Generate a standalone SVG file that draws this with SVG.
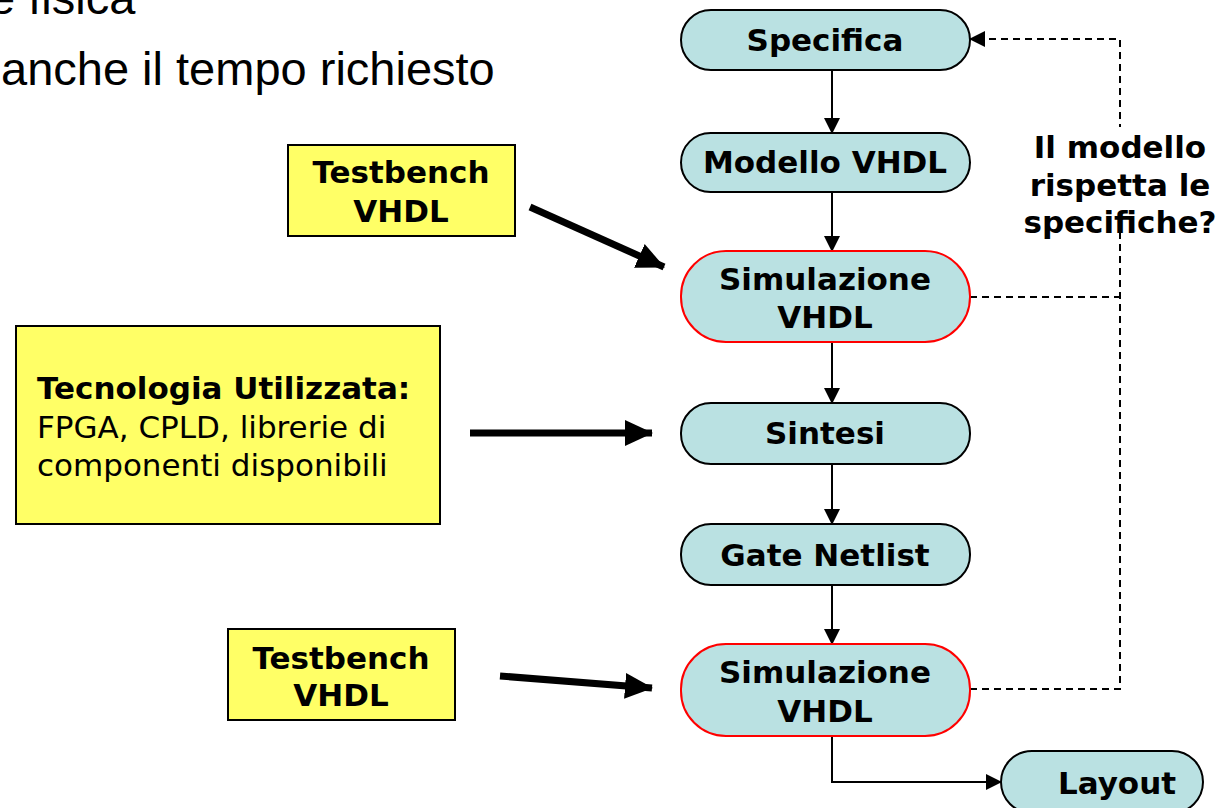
<svg xmlns="http://www.w3.org/2000/svg" width="1227" height="808" viewBox="0 0 1227 808">
<defs>
<style>
.proc{fill:#BAE1E2;stroke:#000;stroke-width:2}
.sim{fill:#BAE1E2;stroke:#FF0000;stroke-width:2}
.note{fill:#FFFF66;stroke:#000;stroke-width:2}
.b{font-family:"DejaVu Sans",Verdana,sans-serif;font-weight:bold;font-size:31px;fill:#000}
.r{font-family:"DejaVu Sans",Verdana,sans-serif;font-size:31px;fill:#000}
.c{text-anchor:middle}
.top{font-family:"Liberation Sans",Arial,sans-serif;font-size:47px;fill:#000}
.flow{fill:none;stroke:#000;stroke-width:2}
.dash{fill:none;stroke:#000;stroke-width:2;stroke-dasharray:7,5}
.thick{fill:none;stroke:#000;stroke-width:7}
</style>
<marker id="ah" markerUnits="userSpaceOnUse" markerWidth="16" markerHeight="16" viewBox="0 0 16 16" refX="15" refY="8" orient="auto">
<path d="M0,0 L16,8 L0,16 Z" fill="#000"/>
</marker>
<marker id="big" markerUnits="userSpaceOnUse" markerWidth="28" markerHeight="28" viewBox="0 0 28 28" refX="27" refY="14" orient="auto">
<path d="M0,1 L28,14 L0,27 Z" fill="#000"/>
</marker>
</defs>
<rect width="1227" height="808" fill="#fff"/>

<g id="heading">
<text class="top" x="-11" y="14">e fisica</text>
<text class="top" x="1" y="85">anche il tempo richiesto</text>
</g>

<g id="connectors">
<line class="flow" x1="832" y1="70" x2="832" y2="133" marker-end="url(#ah)"/>
<line class="flow" x1="832" y1="192" x2="832" y2="251" marker-end="url(#ah)"/>
<line class="flow" x1="832" y1="342" x2="832" y2="403" marker-end="url(#ah)"/>
<line class="flow" x1="832" y1="464" x2="832" y2="524" marker-end="url(#ah)"/>
<line class="flow" x1="832" y1="585" x2="832" y2="644" marker-end="url(#ah)"/>
<polyline class="flow" points="832,736 832,782 1001,782" marker-end="url(#ah)"/>
<polyline class="dash" points="970,297 1120,297"/>
<polyline class="dash" points="970,689 1120,689 1120,39 970,39" marker-end="url(#ah)"/>
<line class="thick" x1="530" y1="207" x2="664" y2="267" marker-end="url(#big)"/>
<line class="thick" x1="470" y1="433" x2="652" y2="433" marker-end="url(#big)"/>
<line class="thick" x1="500" y1="676" x2="652" y2="688" marker-end="url(#big)"/>
</g>

<g id="question">
<rect x="1012" y="127" width="210" height="100" fill="#fff"/>
<text class="b c" x="1120" y="158">Il modello</text>
<text class="b c" x="1120" y="196">rispetta le</text>
<text class="b c" x="1120" y="233">specifiche?</text>
</g>

<g id="n-specifica">
<rect class="proc" x="681" y="10" width="289" height="60" rx="30"/>
<text class="b c" x="825" y="51">Specifica</text>
</g>
<g id="n-modello">
<rect class="proc" x="681" y="133" width="289" height="59" rx="29.5"/>
<text class="b c" x="825" y="173">Modello VHDL</text>
</g>
<g id="n-sim1">
<rect class="sim" x="681" y="251" width="289" height="91" rx="45"/>
<text class="b c" x="825" y="290">Simulazione</text>
<text class="b c" x="825" y="328">VHDL</text>
</g>
<g id="n-sintesi">
<rect class="proc" x="681" y="403" width="289" height="61" rx="30"/>
<text class="b c" x="825" y="444">Sintesi</text>
</g>
<g id="n-gate">
<rect class="proc" x="681" y="524" width="289" height="61" rx="30"/>
<text class="b c" x="825" y="566">Gate Netlist</text>
</g>
<g id="n-sim2">
<rect class="sim" x="681" y="644" width="289" height="92" rx="45"/>
<text class="b c" x="825" y="683">Simulazione</text>
<text class="b c" x="825" y="722">VHDL</text>
</g>
<g id="n-layout">
<rect class="proc" x="1001" y="751" width="202" height="62" rx="31"/>
<text class="b c" x="1117" y="794">Layout</text>
</g>

<g id="n-tb1">
<rect class="note" x="288" y="145" width="227" height="91"/>
<text class="b c" x="401" y="183">Testbench</text>
<text class="b c" x="401" y="222">VHDL</text>
</g>
<g id="n-tech">
<rect class="note" x="16" y="326" width="424" height="198"/>
<text class="b" x="37" y="399">Tecnologia Utilizzata:</text>
<text class="r" x="37" y="438">FPGA, CPLD, librerie di</text>
<text class="r" x="37" y="476">componenti disponibili</text>
</g>
<g id="n-tb2">
<rect class="note" x="228" y="629" width="227" height="91"/>
<text class="b c" x="341" y="669">Testbench</text>
<text class="b c" x="341" y="706">VHDL</text>
</g>
</svg>
